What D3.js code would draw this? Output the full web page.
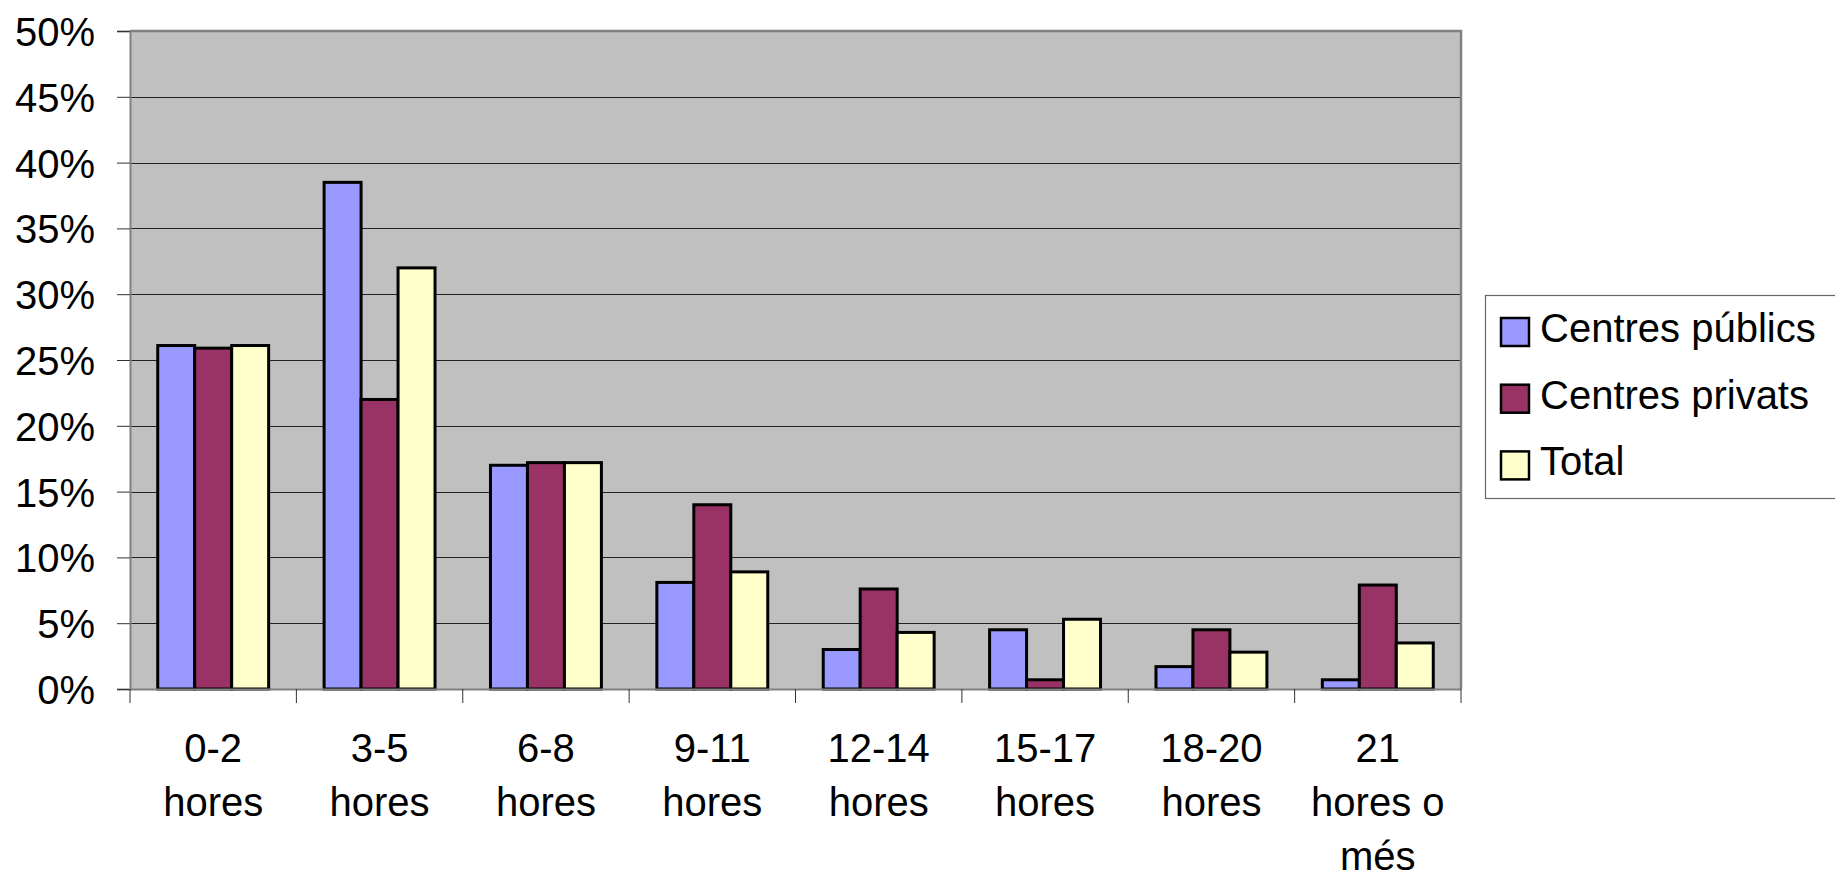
<!DOCTYPE html>
<html>
<head>
<meta charset="utf-8">
<script src="https://cdn.jsdelivr.net/npm/d3@7"></script>
<style>
  html, body { margin: 0; padding: 0; background: #fff; }
  svg text { font-family: "Liberation Sans", Arial, sans-serif; fill: #000; }
</style>
</head>
<body>
<div id="chart"></div>
<script>
const categories = ['0-2 hores', '3-5 hores', '6-8 hores', '9-11 hores', '12-14 hores', '15-17 hores', '18-20 hores', '21 hores o més'];
const categoryLines = [['0-2', 'hores'], ['3-5', 'hores'], ['6-8', 'hores'], ['9-11', 'hores'], ['12-14', 'hores'], ['15-17', 'hores'], ['18-20', 'hores'], ['21', 'hores o', 'més']];
const seriesNames = ['Centres públics', 'Centres privats', 'Total'];
const publics = [26.1, 38.5, 17.0, 8.1, 3.0, 4.5, 1.7, 0.7];
const privats = [25.9, 22.0, 17.2, 14.0, 7.6, 0.7, 4.5, 7.9];
const total = [26.1, 32.0, 17.2, 8.9, 4.3, 5.3, 2.8, 3.5];
const yTicks = [0, 5, 10, 15, 20, 25, 30, 35, 40, 45, 50];
const colors = ['#9999FF', '#993366', '#FFFFCC'];

const width = 1835, height = 873;
const plot = { left: 130, right: 1461, top: 31, bottom: 689 };
const fontSize = 40;

const svg = d3.select('#chart')
    .append('svg')
    .attr('width', width)
    .attr('height', height);

const x = d3.scaleBand()
    .domain(categories)
    .range([plot.left, plot.right])
    .paddingInner(0)
    .paddingOuter(0);

const y = d3.scaleLinear()
    .domain([0, 50])
    .range([plot.bottom, plot.top]);

// bars inside each category: gap width 150%
const x1 = d3.scaleBand()
    .domain(seriesNames)
    .range([0, x.bandwidth()])
    .paddingOuter(0.75)
    .paddingInner(0);

// plot background
svg.append('rect')
    .attr('x', plot.left)
    .attr('y', plot.top)
    .attr('width', plot.right - plot.left)
    .attr('height', plot.bottom - plot.top)
    .attr('fill', '#C0C0C0');

// gridlines
svg.append('g')
    .selectAll('line')
    .data(yTicks.filter(d => d > 0 && d < 50))
    .join('line')
    .attr('x1', plot.left)
    .attr('x2', plot.right)
    .attr('y1', d => Math.round(y(d)) + 0.5)
    .attr('y2', d => Math.round(y(d)) + 0.5)
    .attr('stroke', '#222')
    .attr('stroke-width', 1);

// plot border (top / right)
svg.append('path')
    .attr('d', `M${plot.left},${plot.top} H${plot.right} V${plot.bottom}`)
    .attr('fill', 'none')
    .attr('stroke', '#808080')
    .attr('stroke-width', 2.5);

// bars
const data = [publics, privats, total];
const groups = svg.append('g')
    .selectAll('g')
    .data(categories)
    .join('g')
    .attr('transform', d => `translate(${x(d)},0)`);

groups.selectAll('rect')
    .data((c, i) => seriesNames.map((s, k) => ({ series: s, k: k, value: data[k][i] })))
    .join('rect')
    .attr('x', d => x1(d.series))
    .attr('y', d => y(d.value))
    .attr('width', x1.bandwidth())
    .attr('height', d => y(0) - y(d.value))
    .attr('fill', d => colors[d.k])
    .attr('stroke', '#000')
    .attr('stroke-width', 3);

// y axis
const yAxis = svg.append('g')
    .attr('transform', `translate(${plot.left},0)`)
    .call(d3.axisLeft(y)
        .tickValues(yTicks)
        .tickSize(13)
        .tickPadding(22)
        .tickFormat(d => d + '%'));
yAxis.select('.domain').attr('stroke', '#808080').attr('stroke-width', 2);
yAxis.selectAll('.tick line').attr('stroke', '#333');
yAxis.selectAll('.tick text')
    .attr('font-size', fontSize)
    .attr('font-family', '"Liberation Sans", Arial, sans-serif')
    .attr('fill', '#000')
    .attr('dy', '0.36em');

// x axis
const xAxis = svg.append('g')
    .attr('transform', `translate(0,${plot.bottom})`)
    .call(d3.axisBottom(x).tickSize(0).tickFormat(''));
xAxis.select('.domain').attr('stroke', '#808080').attr('stroke-width', 2);
xAxis.selectAll('.tick').remove();

svg.append('g')
    .selectAll('line')
    .data(categories.concat(['end']))
    .join('line')
    .attr('x1', (d, i) => plot.left + i * x.bandwidth())
    .attr('x2', (d, i) => plot.left + i * x.bandwidth())
    .attr('y1', plot.bottom)
    .attr('y2', plot.bottom + 14)
    .attr('stroke', '#333')
    .attr('stroke-width', 1);

// category labels
svg.append('g')
    .selectAll('text')
    .data(categories)
    .join('text')
    .attr('text-anchor', 'middle')
    .attr('font-size', fontSize)
    .attr('transform', d => `translate(${x(d) + x.bandwidth() / 2},762)`)
    .each(function (d, i) {
        d3.select(this).selectAll('tspan')
            .data(categoryLines[i])
            .join('tspan')
            .attr('x', 0)
            .attr('y', (t, j) => j * 54)
            .text(t => t);
    });

// legend
const legend = svg.append('g');
legend.append('rect')
    .attr('x', 1485.5)
    .attr('y', 295.5)
    .attr('width', 360)
    .attr('height', 203)
    .attr('fill', '#fff')
    .attr('stroke', '#666')
    .attr('stroke-width', 1.2);

const items = legend.selectAll('g')
    .data(seriesNames)
    .join('g')
    .attr('transform', (d, i) => `translate(1501,${318 + i * 66.7})`);

items.append('rect')
    .attr('width', 28)
    .attr('height', 28)
    .attr('fill', (d, i) => colors[i])
    .attr('stroke', '#000')
    .attr('stroke-width', 2.5);

items.append('text')
    .attr('x', 39)
    .attr('y', 24)
    .attr('font-size', fontSize)
    .text(d => d);
</script>
</body>
</html>
